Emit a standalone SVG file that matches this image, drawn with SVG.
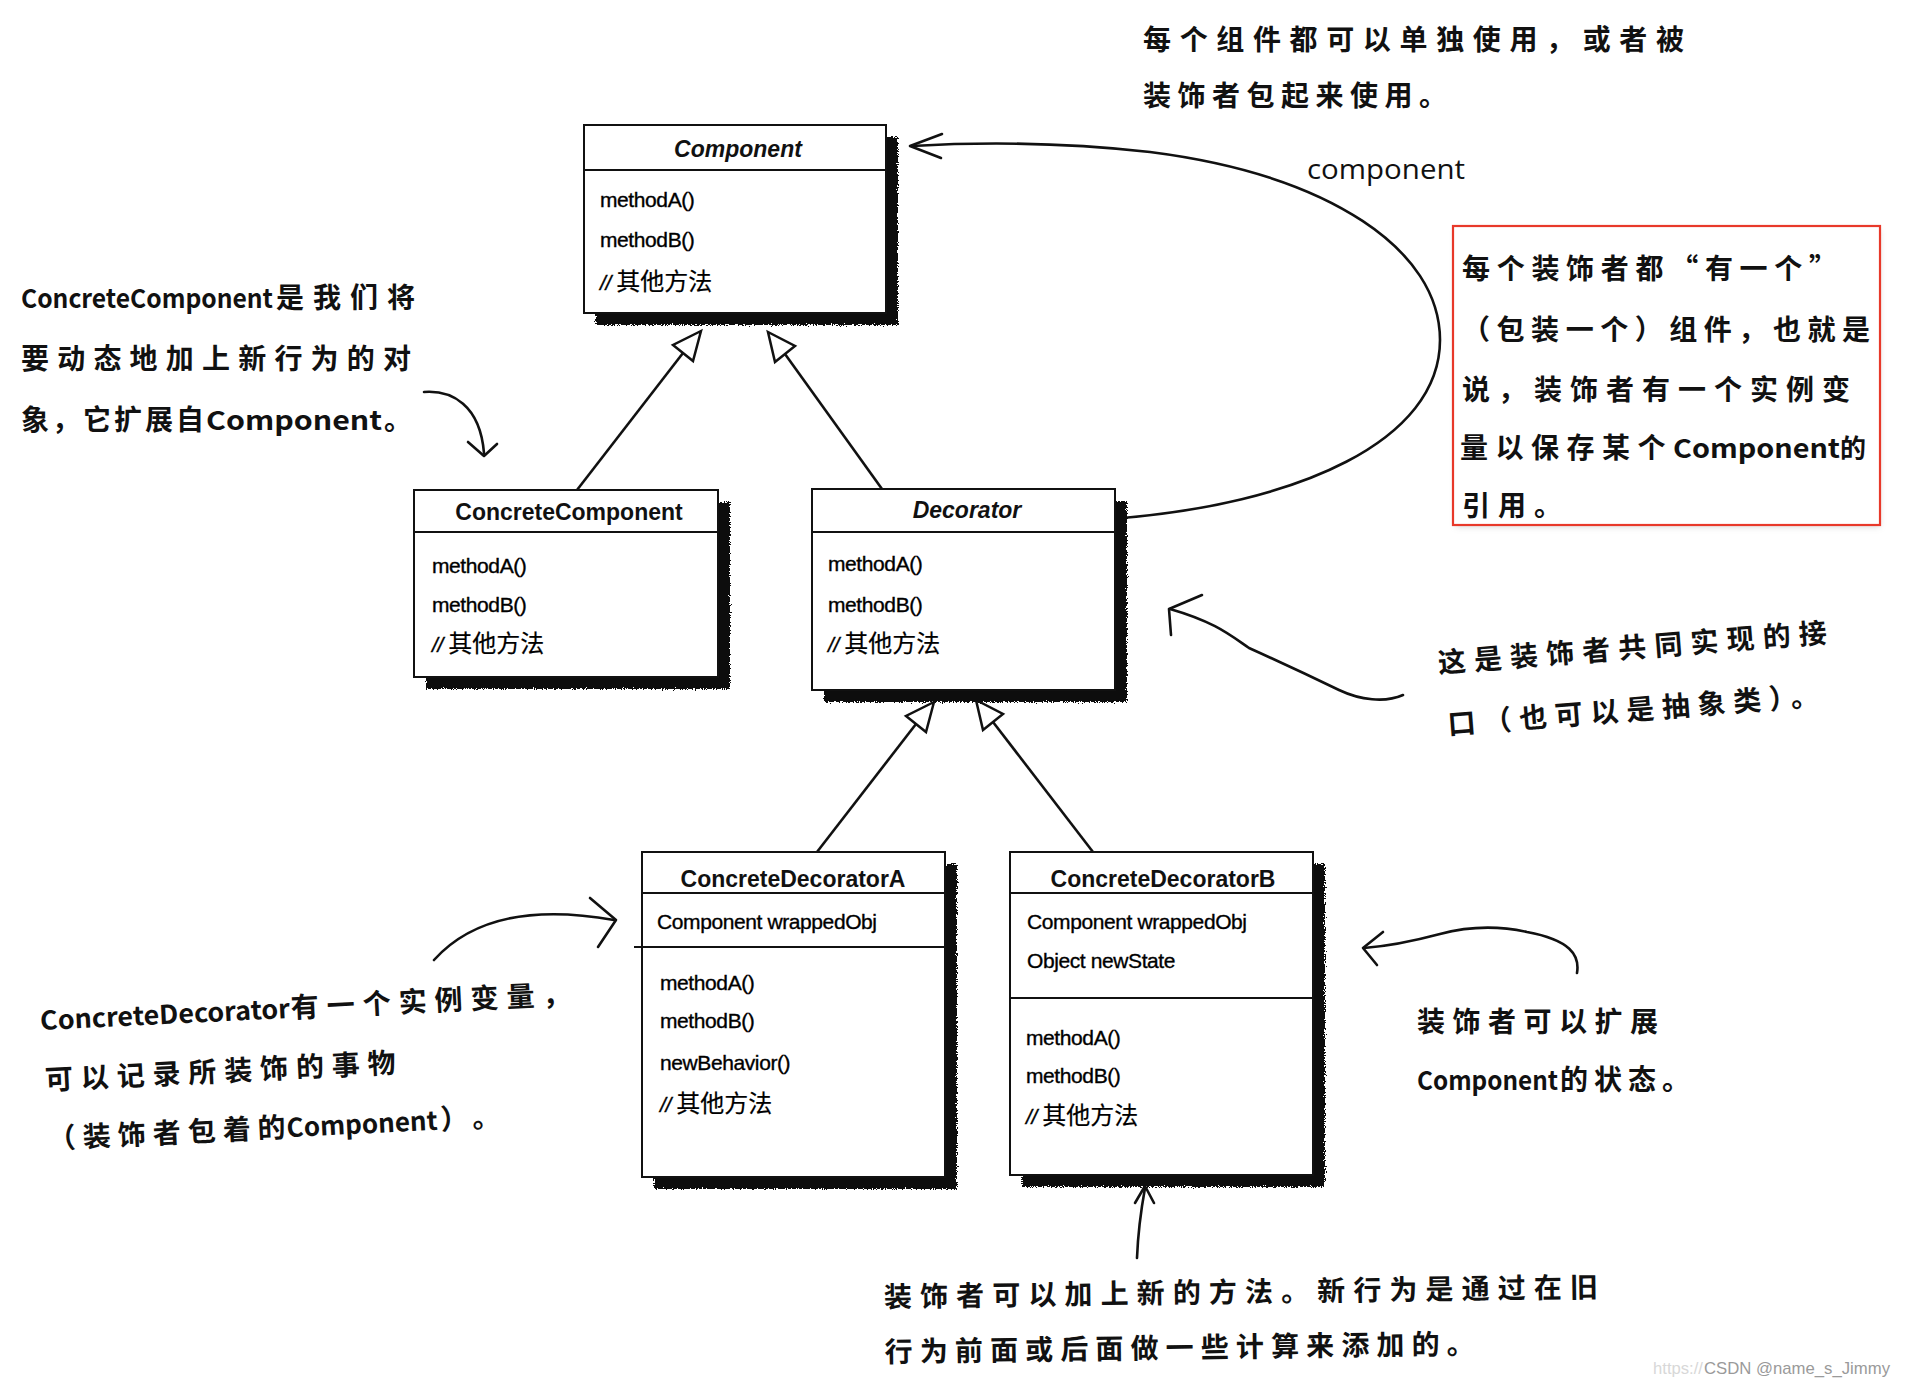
<svg xmlns="http://www.w3.org/2000/svg" width="1906" height="1386" viewBox="0 0 1906 1386">
<defs>
<filter id="rough" x="-5%" y="-5%" width="110%" height="110%">
<feTurbulence type="fractalNoise" baseFrequency="0.9" numOctaves="2" seed="3" result="n"/>
<feDisplacementMap in="SourceGraphic" in2="n" scale="6" xChannelSelector="R" yChannelSelector="G"/>
</filter>
<filter id="soft" x="-5%" y="-5%" width="110%" height="115%">
<feGaussianBlur stdDeviation="3"/>
</filter>
<style>
.box{fill:#fff;stroke:#111;stroke-width:2}
.shadow{fill:#0a0a0a;filter:url(#rough)}
.sep{stroke:#111;stroke-width:2}
.title{font-family:"Liberation Sans",Arial,sans-serif;font-weight:bold;font-size:23px;text-anchor:middle;fill:#111}
.it{font-style:italic}
.m{font-family:"Liberation Sans","Noto Sans CJK SC",sans-serif;font-size:21px;fill:#000;stroke:#000;stroke-width:0.35px;letter-spacing:-0.4px}
.cj{font-family:"Noto Sans CJK SC","Liberation Sans",sans-serif;font-size:24px;letter-spacing:0;stroke-width:0.2px}
.hw{font-family:"Noto Sans CJK SC",sans-serif;font-weight:bold;font-size:28px;fill:#111}
.lat{font-size:26px}
.conn{fill:none;stroke:#111;stroke-width:2.6}
.tri{fill:#fff;stroke:#111;stroke-width:2.5;stroke-linejoin:miter}
.hand{fill:none;stroke:#111;stroke-width:2.6;stroke-linecap:round;stroke-linejoin:round}
.lbl{font-family:"Open Sans","Liberation Sans",sans-serif;font-size:28px;fill:#111}
</style>
</defs>
<rect width="1906" height="1386" fill="#fff"/>

<g id="connectors">
<!-- inheritance -->
<line class="conn" x1="577" y1="490" x2="683" y2="353"/>
<polygon class="tri" points="701,331 693,361 673,345"/>
<line class="conn" x1="882" y1="489" x2="785" y2="354"/>
<polygon class="tri" points="768,332 795,346 775,362"/>
<line class="conn" x1="817" y1="852" x2="916" y2="724"/>
<polygon class="tri" points="934,702 926,732 906,716"/>
<line class="conn" x1="1093" y1="852" x2="993" y2="722"/>
<polygon class="tri" points="976,700 1003,714 983,730"/>
<!-- association component -->
<path class="conn" d="M1110,519 C1300,505 1440,440 1440,340 C1440,250 1330,175 1150,152 C1060,142 980,142 912,146"/>
<path class="hand" d="M942,134 L910,146 L941,158"/>
<!-- annotation arrows -->
<path class="hand" d="M424,392 C452,390 480,405 484,453"/>
<path class="hand" d="M468,442 L484,456 L497,444"/>
<path class="hand" d="M1403,695 C1385,703 1360,700 1339,690 C1310,676 1280,662 1249,648 C1230,635 1215,622 1170,609"/>
<path class="hand" d="M1202,595 L1169,609 L1171,635"/>
<path class="hand" d="M434,960 C470,920 530,905 614,920"/>
<path class="hand" d="M590,898 L616,920 L598,947"/>
<path class="hand" d="M1577,973 C1580,955 1570,940 1527,932 C1500,926 1470,926 1440,934 C1410,942 1390,946 1364,948"/>
<path class="hand" d="M1383,932 L1363,948 L1377,965"/>
<path class="hand" d="M1137,1258 C1138,1232 1141,1210 1145,1188"/>
<path class="hand" d="M1135,1203 L1145,1186 L1154,1203"/>
</g>

<g id="Component">
<rect class="shadow" x="596" y="137" width="302" height="188"/>
<rect class="box" x="584" y="125" width="302" height="188"/>
<line class="sep" x1="584" y1="170" x2="886" y2="170"/>
<text class="title it" x="738" y="157">Component</text>
<text class="m" x="600" y="207">methodA()</text>
<text class="m" x="600" y="247">methodB()</text>
<text class="m" x="600" y="290"><tspan class="it">//</tspan> <tspan class="cj">其他方法</tspan></text>
</g>

<g id="ConcreteComponent">
<rect class="shadow" x="426" y="502" width="304" height="187"/>
<rect class="box" x="414" y="490" width="304" height="187"/>
<line class="sep" x1="414" y1="532" x2="718" y2="532"/>
<text class="title" x="569" y="520">ConcreteComponent</text>
<text class="m" x="432" y="573">methodA()</text>
<text class="m" x="432" y="612">methodB()</text>
<text class="m" x="432" y="652"><tspan class="it">//</tspan> <tspan class="cj">其他方法</tspan></text>
</g>

<g id="Decorator">
<rect class="shadow" x="824" y="501" width="303" height="201"/>
<rect class="box" x="812" y="489" width="303" height="201"/>
<line class="sep" x1="812" y1="532" x2="1115" y2="532"/>
<text class="title it" x="967" y="518">Decorator</text>
<text class="m" x="828" y="571">methodA()</text>
<text class="m" x="828" y="612">methodB()</text>
<text class="m" x="828" y="652"><tspan class="it">//</tspan> <tspan class="cj">其他方法</tspan></text>
</g>

<g id="ConcreteDecoratorA">
<rect class="shadow" x="654" y="864" width="303" height="325"/>
<rect class="box" x="642" y="852" width="303" height="325"/>
<line class="sep" x1="642" y1="893" x2="945" y2="893"/>
<line class="sep" x1="634" y1="947" x2="945" y2="947"/>
<text class="title" x="793" y="887">ConcreteDecoratorA</text>
<text class="m" x="657" y="929">Component wrappedObj</text>
<text class="m" x="660" y="990">methodA()</text>
<text class="m" x="660" y="1028">methodB()</text>
<text class="m" x="660" y="1070">newBehavior()</text>
<text class="m" x="660" y="1112"><tspan class="it">//</tspan> <tspan class="cj">其他方法</tspan></text>
</g>

<g id="ConcreteDecoratorB">
<rect class="shadow" x="1022" y="864" width="303" height="323"/>
<rect class="box" x="1010" y="852" width="303" height="323"/>
<line class="sep" x1="1010" y1="893" x2="1313" y2="893"/>
<line class="sep" x1="1010" y1="998" x2="1313" y2="998"/>
<text class="title" x="1163" y="887">ConcreteDecoratorB</text>
<text class="m" x="1027" y="929">Component wrappedObj</text>
<text class="m" x="1027" y="968">Object newState</text>
<text class="m" x="1026" y="1045">methodA()</text>
<text class="m" x="1026" y="1083">methodB()</text>
<text class="m" x="1026" y="1124"><tspan class="it">//</tspan> <tspan class="cj">其他方法</tspan></text>
</g>

<g id="label-component">
<text class="lbl" x="1307" y="179" textLength="158" lengthAdjust="spacingAndGlyphs">component</text>
</g>

<g id="note-top">
<text class="hw" x="1143" y="50" textLength="541" lengthAdjust="spacing">每个组件都可以单独使用，或者被</text>
<text class="hw" x="1143" y="106" textLength="304" lengthAdjust="spacing">装饰者包起来使用。</text>
</g>

<g id="note-red">
<rect x="1456" y="230" width="424" height="297" fill="#999" opacity="0.35" filter="url(#soft)"/>
<rect x="1453" y="226" width="427" height="299" fill="#fff" stroke="#e8392a" stroke-width="2.2"/>
<text class="hw" x="1462" y="279" textLength="375" lengthAdjust="spacing">每个装饰者都“有一个”</text>
<text class="hw" x="1462" y="340" textLength="408" lengthAdjust="spacing">（包装一个）组件，也就是</text>
<text class="hw" x="1462" y="400" textLength="388" lengthAdjust="spacing">说，装饰者有一个实例变</text>
<text class="hw" x="1460" y="458"><tspan letter-spacing="7.5">量以保存某个</tspan><tspan x="1673" class="lat" font-size="29px" textLength="167" lengthAdjust="spacingAndGlyphs">Component</tspan><tspan x="1840" font-size="26px">的</tspan></text>
<text class="hw" x="1462" y="516" letter-spacing="8">引用。</text>
</g>

<g id="note-concretecomponent">
<text class="hw" x="21" y="308"><tspan class="lat" textLength="252" lengthAdjust="spacingAndGlyphs">ConcreteComponent</tspan><tspan x="276" letter-spacing="9">是我们将</tspan></text>
<text class="hw" x="21" y="369" textLength="390" lengthAdjust="spacing">要动态地加上新行为的对</text>
<text class="hw" x="21" y="430"><tspan letter-spacing="3">象，它扩展自</tspan><tspan x="206" class="lat" textLength="176" lengthAdjust="spacingAndGlyphs">Component</tspan><tspan x="384">。</tspan></text>
</g>

<g id="note-decorator" transform="rotate(-4.5 1440 690)">
<text class="hw" x="1440" y="673" textLength="390" lengthAdjust="spacing">这是装饰者共同实现的接</text>
<text class="hw" x="1445" y="735" textLength="372" lengthAdjust="spacing">口（也可以是抽象类）。</text>
</g>

<g id="note-concretedecorator" transform="rotate(-2.8 43 1080)">
<text class="hw" x="43" y="1030"><tspan class="lat" textLength="250" lengthAdjust="spacingAndGlyphs">ConcreteDecorator</tspan><tspan x="294" letter-spacing="8">有一个实例变量，</tspan></text>
<text class="hw" x="45" y="1090" textLength="351" lengthAdjust="spacing">可以记录所装饰的事物</text>
<text class="hw" x="45" y="1149"><tspan letter-spacing="7">（装饰者包着的</tspan><tspan x="284" class="lat" textLength="151" lengthAdjust="spacingAndGlyphs">Component</tspan><tspan x="438">）</tspan><tspan x="470">。</tspan></text>
</g>

<g id="note-state">
<text class="hw" x="1417" y="1032" textLength="241" lengthAdjust="spacing">装饰者可以扩展</text>
<text class="hw" x="1417" y="1090"><tspan class="lat" textLength="141" lengthAdjust="spacingAndGlyphs">Component</tspan><tspan x="1560" letter-spacing="6">的状态。</tspan></text>
</g>

<g id="note-bottom" transform="rotate(-0.8 884 1300)">
<text class="hw" x="884" y="1307" textLength="714" lengthAdjust="spacing">装饰者可以加上新的方法。新行为是通过在旧</text>
<text class="hw" x="884" y="1362" textLength="590" lengthAdjust="spacing">行为前面或后面做一些计算来添加的。</text>
</g>

<g id="watermark" font-family="Liberation Sans,sans-serif" font-size="17px">
<text x="1653" y="1374" fill="#d8d8d8" textLength="50" lengthAdjust="spacingAndGlyphs">https://</text>
<text x="1704" y="1374" fill="#9a9a9a" textLength="186" lengthAdjust="spacingAndGlyphs">CSDN @name_s_Jimmy</text>
</g>
</svg>
